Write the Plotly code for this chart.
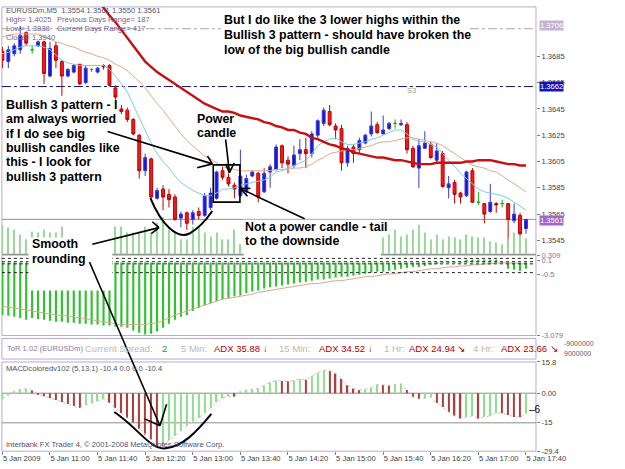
import plotly.graph_objects as go

W, H = 625, 469
def fx(x): return x / W
def fy(y): return 1 - y / H

bars = list(range(89))
time_tick_bars = [0, 8, 16, 24, 32, 40, 48, 56, 64, 72, 80, 88]
time_tick_text = ["5 Jan 2009", "5 Jan 11:00", "5 Jan 11:40", "5 Jan 12:20", "5 Jan 13:00",
                  "5 Jan 13:40", "5 Jan 14:20", "5 Jan 15:00", "5 Jan 15:40", "5 Jan 16:20",
                  "5 Jan 17:00", "5 Jan 17:40"]

open_ = [1.3689,1.3681,1.3687,1.3690,1.3703,1.3690,1.3693,1.3696,1.3670,1.3693,
         1.3681,1.3670,1.3673,1.3679,1.3665,1.3675,1.3673,1.3678,1.3678,1.3661,
         1.3645,1.3644,1.3637,1.3625,1.3598,1.3607,1.3577,1.3584,1.3580,1.3578,
         1.3562,1.3566,1.3561,1.3567,1.3564,1.3570,1.3577,1.3598,1.3593,1.3587,
         1.3579,1.3582,1.3594,1.3596,1.3582,1.3597,1.3599,1.3617,1.3606,1.3602,
         1.3611,1.3614,1.3611,1.3625,1.3634,1.3643,1.3632,1.3630,1.3604,1.3616,
         1.3614,1.3619,1.3626,1.3633,1.3626,1.3630,1.3634,1.3633,1.3633,1.3615,
         1.3600,1.3615,1.3618,1.3606,1.3611,1.3585,1.3589,1.3581,1.3579,1.3598,
         1.3574,1.3573,1.3567,1.3573,1.3573,1.3573,1.3560,1.3564,1.3554]
high = [1.3692,1.3693,1.3695,1.3708,1.3704,1.3693,1.3697,1.3697,1.3696,1.3696,
        1.3682,1.3676,1.3679,1.3679,1.3678,1.3676,1.3677,1.3679,1.3679,1.3663,
        1.3648,1.3646,1.3638,1.3626,1.3611,1.3608,1.3585,1.3587,1.3584,1.3580,
        1.3567,1.3567,1.3568,1.3570,1.3581,1.3585,1.3598,1.3601,1.3596,1.3589,
        1.3614,1.3595,1.3598,1.3597,1.3600,1.3603,1.3618,1.3618,1.3609,1.3617,
        1.3622,1.3623,1.3628,1.3637,1.3646,1.3648,1.3634,1.3633,1.3617,1.3618,
        1.3623,1.3626,1.3643,1.3635,1.3640,1.3635,1.3637,1.3637,1.3635,1.3617,
        1.3622,1.3628,1.3620,1.3619,1.3613,1.3594,1.3591,1.3582,1.3598,1.3600,
        1.3582,1.3573,1.3588,1.3574,1.3576,1.3573,1.3573,1.3566,1.3561]
low = [1.3676,1.3676,1.3685,1.3687,1.3693,1.3687,1.3692,1.3664,1.3669,1.3676,
       1.3655,1.3669,1.3672,1.3663,1.3664,1.3673,1.3672,1.3675,1.3662,1.3652,
       1.3641,1.3635,1.3625,1.3592,1.3594,1.3577,1.3576,1.3568,1.3570,1.3560,
       1.3555,1.3553,1.3557,1.3561,1.3563,1.3568,1.3576,1.3591,1.3586,1.3577,
       1.3578,1.3579,1.3593,1.3574,1.3581,1.3585,1.3598,1.3600,1.3596,1.3600,
       1.3606,1.3600,1.3608,1.3623,1.3632,1.3632,1.3622,1.3598,1.3601,1.3604,
       1.3611,1.3618,1.3624,1.3626,1.3626,1.3629,1.3630,1.3632,1.3611,1.3600,
       1.3585,1.3615,1.3607,1.3604,1.3585,1.3577,1.3573,1.3573,1.3578,1.3574,
       1.3572,1.3558,1.3566,1.3566,1.3570,1.3541,1.3558,1.3546,1.3550]
close = [1.3682,1.3690,1.3693,1.3701,1.3695,1.3690,1.3696,1.3672,1.3691,1.3682,
         1.3670,1.3675,1.3678,1.3664,1.3676,1.3675,1.3676,1.3677,1.3663,1.3654,
         1.3643,1.3637,1.3626,1.3598,1.3608,1.3578,1.3583,1.3578,1.3576,1.3561,
         1.3565,1.3558,1.3566,1.3564,1.3579,1.3581,1.3597,1.3593,1.3588,1.3584,
         1.3594,1.3592,1.3597,1.3578,1.3596,1.3601,1.3616,1.3604,1.3603,1.3610,
         1.3614,1.3611,1.3626,1.3636,1.3644,1.3633,1.3629,1.3604,1.3615,1.3611,
         1.3621,1.3625,1.3632,1.3627,1.3629,1.3634,1.3634,1.3634,1.3614,1.3601,
         1.3617,1.3619,1.3608,1.3613,1.3586,1.3588,1.3580,1.3578,1.3597,1.3574,
         1.3574,1.3565,1.3574,1.3572,1.3573,1.3561,1.3565,1.3550,1.3561]

ma_fast = [1.3687,1.3688,1.3690,1.3692,1.3693,1.3693,1.3693,1.3692,1.3690,1.3686,
           1.3682,1.3680,1.3679,1.3678,1.3678,1.3678,1.3678,1.3678,1.3675,1.3670,
           1.3664,1.3658,1.3648,1.3638,1.3629,1.3619,1.3611,1.3605,1.3600,1.3594,
           1.3589,1.3586,1.3583,1.3581,1.3579,1.3579,1.3581,1.3584,1.3584,1.3585,
           1.3587,1.3588,1.3589,1.3590,1.3591,1.3593,1.3597,1.3598,1.3600,1.3602,
           1.3604,1.3606,1.3611,1.3617,1.3620,1.3622,1.3623,1.3620,1.3618,1.3618,
           1.3619,1.3620,1.3622,1.3623,1.3625,1.3627,1.3629,1.3629,1.3626,1.3622,
           1.3620,1.3620,1.3618,1.3616,1.3611,1.3606,1.3601,1.3596,1.3592,1.3588,
           1.3584,1.3582,1.3581,1.3580,1.3579,1.3577,1.3574,1.3571,1.3568]
ma_mid = [1.3700,1.3701,1.3702,1.3702,1.3702,1.3702,1.3702,1.3700,1.3698,1.3696,
          1.3695,1.3693,1.3692,1.3690,1.3688,1.3687,1.3685,1.3684,1.3682,1.3679,
          1.3677,1.3674,1.3670,1.3666,1.3661,1.3655,1.3649,1.3644,1.3638,1.3632,
          1.3626,1.3621,1.3617,1.3613,1.3609,1.3607,1.3604,1.3601,1.3600,1.3599,
          1.3598,1.3598,1.3598,1.3598,1.3598,1.3598,1.3599,1.3599,1.3599,1.3600,
          1.3600,1.3601,1.3603,1.3606,1.3608,1.3611,1.3612,1.3613,1.3614,1.3614,
          1.3615,1.3616,1.3617,1.3619,1.3620,1.3620,1.3621,1.3622,1.3623,1.3623,
          1.3622,1.3621,1.3620,1.3619,1.3617,1.3614,1.3611,1.3608,1.3605,1.3602,
          1.3601,1.3600,1.3598,1.3597,1.3594,1.3591,1.3588,1.3585,1.3582]
ma_slow_bars = list(range(14, 89))
ma_slow = [1.3740,1.3734,1.3728,1.3722,1.3716,1.3711,1.3705,1.3699,1.3693,1.3687,
           1.3681,1.3677,1.3673,1.3670,1.3667,1.3664,1.3661,1.3658,1.3655,1.3652,
           1.3649,1.3647,1.3645,1.3643,1.3643,1.3642,1.3640,1.3639,1.3638,1.3637,
           1.3635,1.3634,1.3632,1.3631,1.3629,1.3629,1.3627,1.3626,1.3623,1.3622,
           1.3620,1.3618,1.3617,1.3615,1.3614,1.3612,1.3611,1.3610,1.3609,1.3608,
           1.3608,1.3607,1.3606,1.3606,1.3605,1.3604,1.3603,1.3603,1.3603,1.3604,
           1.3604,1.3604,1.3604,1.3604,1.3605,1.3605,1.3606,1.3606,1.3606,1.3605,
           1.3604,1.3603,1.3603,1.3602,1.3602]

volume = [30,27,25,20,15,23,22,25,22,22,
          28,14,10,12,9,11,8,13,15,28,
          28,22,22,23,28,22,32,38,25,22,
          15,15,28,28,22,18,22,15,15,25,
          10,18,20,16,22,19,24,17,21,18,
          23,20,26,19,22,17,25,21,18,16,
          20,19,15,17,17,20,25,18,20,25,
          30,22,15,20,15,18,17,15,20,18,
          17,17,13,12,10,16,22,19,16]

osc_hist = [-2.21,-2.25,-2.29,-2.34,-2.42,-2.34,-2.38,-2.42,-2.46,-2.50,
            -2.50,-2.54,-2.54,-2.58,-2.58,-2.62,-2.62,-2.66,-2.66,-2.71,
            -2.71,-2.75,-2.87,-2.96,-3.04,-3.00,-2.91,-2.75,-2.58,-2.42,
            -2.29,-2.21,-2.05,-1.92,-1.80,-1.72,-1.63,-1.55,-1.51,-1.43,
            -1.39,-1.30,-1.22,-1.18,-1.10,-1.05,-1.01,-0.97,-0.93,-0.89,
            -0.85,-0.81,-0.77,-0.72,-0.72,-0.68,-0.64,-0.60,-0.60,-0.56,
            -0.52,-0.48,-0.43,-0.39,-0.39,-0.35,-0.31,-0.27,-0.23,-0.19,
            -0.19,-0.15,-0.10,-0.06,-0.02,-0.02,-0.02,-0.02,0.12,0.12,
            0.12,0.12,0.12,0.12,-0.02,-0.27,-0.31,-0.35,-0.27]
osc_signal = [-1.84,-1.88,-1.92,-1.96,-2.00,-2.05,-2.09,-2.13,-2.17,-2.21,
              -2.25,-2.25,-2.29,-2.34,-2.38,-2.42,-2.46,-2.50,-2.54,-2.58,
              -2.62,-2.62,-2.62,-2.62,-2.62,-2.58,-2.54,-2.46,-2.34,-2.21,
              -2.13,-2.05,-1.96,-1.88,-1.80,-1.72,-1.63,-1.55,-1.51,-1.47,
              -1.43,-1.39,-1.34,-1.26,-1.22,-1.18,-1.14,-1.10,-1.05,-1.01,
              -0.97,-0.93,-0.89,-0.89,-0.85,-0.81,-0.77,-0.77,-0.72,-0.68,
              -0.64,-0.60,-0.60,-0.56,-0.52,-0.48,-0.48,-0.43,-0.39,-0.39,
              -0.35,-0.31,-0.27,-0.27,-0.23,-0.19,-0.19,-0.15,-0.15,-0.10,
              -0.10,-0.06,-0.06,-0.02,-0.02,-0.02,-0.02,-0.06,-0.06]
osc_levels = [0.17, 0.03, -0.06, -0.43]

macd = [-3,-1,1,2,2.2,1.5,-0.5,-1.5,-2.5,-3.5,
        -4.5,-5.5,-6.5,-7.5,-6,-5,-4,-3,-5,-7.5,
        -10,-12.5,-15,-18,-21,-23.5,-27.5,-26.5,-24,-21.5,
        -19,-16.5,-14.5,-12.5,-10,-7.5,-4.5,-2.5,-1.5,-1.8,
        0.8,1.6,2,2.4,4,5.6,6.4,6.2,6,6.4,
        7.2,6.8,8.8,10.4,11.6,11.4,10,7.2,4,2.4,
        1.6,2,2.8,4.4,4.2,4,4.4,4.8,1.6,-2,
        -3,-2.5,-2,-5,-7,-9.5,-11.5,-13,-12,-11.5,
        -13,-12,-11.5,-10,-10.2,-11,-12,-12.2,-10.4]
macd_levels = [0, -15]

price_lines = {"high_line": 1.3706, "pivot": 1.3662, "bid": 1.3561}
price_ticks = [1.3545, 1.3565, 1.3585, 1.3605, 1.3625, 1.3645, 1.3665, 1.3685]

fig = go.Figure()

fig.add_trace(go.Bar(x=bars, y=volume, yaxis="y4", marker_color="#9ad69a",
                     marker_line_width=0, width=0.22))

def price_at(y):
    return 1.37248 - 0.0000746 * y

normal = [i for i in bars if open_[i] != close[i]]
doji = [i for i in bars if open_[i] == close[i]]
fig.add_trace(go.Candlestick(
    x=normal, open=[open_[i] for i in normal], high=[high[i] for i in normal],
    low=[low[i] for i in normal], close=[close[i] for i in normal],
    increasing=dict(line=dict(color="#3a3ac8", width=1), fillcolor="#1414e6"),
    decreasing=dict(line=dict(color="#c40000", width=1), fillcolor="#ee1c1c"),
    whiskerwidth=0, yaxis="y"))
fig.add_trace(go.Candlestick(
    x=doji, open=[open_[i] for i in doji], high=[high[i] for i in doji],
    low=[low[i] for i in doji], close=[close[i] for i in doji],
    increasing=dict(line=dict(color="#10b010", width=1), fillcolor="#10b010"),
    decreasing=dict(line=dict(color="#10b010", width=1), fillcolor="#10b010"),
    whiskerwidth=0, yaxis="y"))

fig.add_trace(go.Scatter(x=bars, y=ma_mid, mode="lines", line=dict(color="#e4a888", width=1), yaxis="y"))
fig.add_trace(go.Scatter(x=bars, y=ma_fast, mode="lines", line=dict(color="#78d0d8", width=1), yaxis="y"))
fig.add_trace(go.Scatter(x=ma_slow_bars, y=ma_slow, mode="lines", line=dict(color="#c81010", width=2.4), yaxis="y"))

fig.add_trace(go.Bar(x=bars, y=osc_hist, yaxis="y2", marker_color="#30c030",
                     marker_line_width=0, width=0.36))
fig.add_trace(go.Scatter(x=bars, y=osc_signal, mode="lines", line=dict(color="#d8a890", width=1), yaxis="y2"))

macd_colors = ["#90dc90" if (i == 0 or macd[i] >= macd[i - 1]) else "#a84040" for i in bars]
fig.add_trace(go.Bar(x=bars, y=macd, yaxis="y3", marker_color=macd_colors,
                     marker_line_width=0, width=0.24))
fig.add_trace(go.Scatter(x=bars, y=macd, mode="lines", line=dict(color="#c8c8c8", width=1, dash="dot"), yaxis="y3"))

shapes = []
frame = "#b8aad0"
def hline_paper(x0, x1, y, color, width=1, dash="solid"):
    shapes.append(dict(type="line", xref="paper", yref="paper", x0=fx(x0), x1=fx(x1),
                       y0=fy(y), y1=fy(y), line=dict(color=color, width=width, dash=dash)))
def rect_paper(x0, y0, x1, y1, color, width=1, fill=None, layer="below"):
    d = dict(type="rect", xref="paper", yref="paper", x0=fx(x0), x1=fx(x1),
             y0=fy(y1), y1=fy(y0), line=dict(color=color, width=width), layer=layer)
    if fill:
        d["fillcolor"] = fill
    shapes.append(d)

rect_paper(2, 3, 563, 255, frame)
rect_paper(2, 256, 563, 338, frame)
rect_paper(2, 341, 563, 362, frame)
rect_paper(2, 365, 563, 456, frame)
hline_paper(2, 563, 255.5, "#909090")

for key, col, dash, w in [("high_line", "#a8a8a8", "dashdot", 1), ("pivot", "#101080", "dashdot", 1), ("bid", "#909090", "solid", 1)]:
    shapes.append(dict(type="line", xref="paper", yref="y", x0=fx(2), x1=fx(563),
                       y0=price_lines[key], y1=price_lines[key], line=dict(color=col, width=w, dash=dash), layer="below"))
for lv in osc_levels:
    shapes.append(dict(type="line", xref="paper", yref="y2", x0=fx(2), x1=fx(563),
                       y0=lv, y1=lv, line=dict(color="#202020", width=1, dash="dot"), layer="above"))
for lv in macd_levels:
    shapes.append(dict(type="line", xref="paper", yref="y3", x0=fx(2), x1=fx(563),
                       y0=lv, y1=lv, line=dict(color="#8c8c8c", width=1), layer="below"))

rect_paper(232, 8, 490, 55, "white", 0, "white", "above")
rect_paper(256, 220, 400, 258, "white", 0, "white", "above")
rect_paper(30, 238, 118, 292, "white", 0, "white", "above")

def P(x, y):
    return f"{fx(x):.5f},{fy(y):.5f}"
def seg(x0, y0, x1, y1, w=1.6):
    shapes.append(dict(type="line", xref="paper", yref="paper", x0=fx(x0), y0=fy(y0),
                       x1=fx(x1), y1=fy(y1), line=dict(color="black", width=w), layer="above"))

shapes.append(dict(type="path", xref="paper", yref="paper", layer="above",
                   path=f"M {P(158,198)} C {P(170,226)} {P(186,240)} {P(199,234)} C {P(208,229)} {P(216,221)} {P(223,211)}",
                   line=dict(color="black", width=2)))
shapes.append(dict(type="path", xref="paper", yref="paper", layer="above",
                   path=f"M {P(120,416)} C {P(145,432)} {P(158,455)} {P(174,453)} C {P(192,451)} {P(206,437)} {P(222,418)}",
                   line=dict(color="black", width=2)))
shapes.append(dict(type="rect", xref="paper", yref="paper", x0=fx(224), x1=fx(252), y0=fy(202), y1=fy(164),
                   line=dict(color="black", width=1.6), layer="above"))
seg(97, 245, 167, 228); seg(167, 228, 160, 222); seg(167, 228, 159, 234)
seg(113, 130, 223, 163); seg(223, 163, 218, 155); seg(223, 163, 207, 167)
seg(237, 138, 241, 172); seg(241, 172, 237, 163); seg(241, 172, 246, 162)
seg(320, 219, 252, 188); seg(252, 188, 263, 188); seg(252, 188, 260, 196)
seg(94, 263, 168, 430); seg(168, 430, 152, 423); seg(168, 430, 175, 408)

ann = []
note_font = dict(family="Arial, Liberation Sans, sans-serif", size=12.4, color="black")
def note(x, y, t):
    ann.append(dict(xref="paper", yref="paper", x=fx(x), y=fy(y), xanchor="left", yanchor="middle",
                    text=f"<b>{t}</b>", showarrow=False, font=note_font))
top_note = ["But I do like the 3 lower highs within the",
            "Bullish 3 pattern - should have broken the",
            "low of the big bullish candle"]
for k, t in enumerate(top_note):
    note(233, 16 + 15.5 * k, t)
left_note = ["Bullish 3 pattern - I", "am always worried", "if I do see big",
             "bullish candles like", "this - I look for", "bullish 3 pattern"]
for k, t in enumerate(left_note):
    note(4, 103 + 14.6 * k, t)
for k, t in enumerate(["Power", "candle"]):
    note(205, 117 + 15 * k, t)
for k, t in enumerate(["Not a power candle - tail", "to the downside"]):
    note(255, 227 + 15 * k, t)
for k, t in enumerate(["Smooth", "rounding"]):
    note(31, 245 + 15 * k, t)

small = dict(family="Liberation Sans, Arial, sans-serif", size=7.6, color="#7a5c96")
def txt(x, y, t, font=small, xanchor="left", bg=None):
    d = dict(xref="paper", yref="paper", x=fx(x), y=fy(y), xanchor=xanchor, yanchor="middle",
             text=t, showarrow=False, font=font)
    if bg:
        d["bgcolor"] = bg
        d["borderpad"] = 0
    ann.append(d)

txt(4, 7, "EURUSDm,M5  1.3554 1.3561 1.3550 1.3561", dict(small, color="#555566"))
txt(4, 16, "High= 1.4025")
txt(58, 16, "Previous Days Range= 187")
txt(4, 25, "Low= 1.3838")
txt(58, 25, "Current Days Range= 417")
txt(4, 34, "Close= 1.3940")
txt(425, 88, "S3", dict(small, color="#a0a0a0"))

axis_small = dict(family="Liberation Sans, Arial, sans-serif", size=7.6, color="#ffffff")
txt(566, 22, "1.3706", axis_small, bg="#c4b4d4")
txt(566, 84.5, "1.3662", axis_small, bg="#1414b4")
txt(566, 220.5, "1.3561", axis_small, bg="#a468c4")

tor_gray = dict(family="Liberation Sans, Arial, sans-serif", size=9.5, color="#b8b8b8")
tor_red = dict(family="Liberation Sans, Arial, sans-serif", size=9.5, color="#b00000")
txt(5, 351, "ToR 1.02 (EURUSDm)", dict(small, color="#8a7aa0", size=7.6))
txt(87, 351, "Current Spread:", tor_gray)
txt(168, 351, "2", dict(tor_gray, color="#20a020"))
txt(188, 351, "5 Min:", tor_gray)
txt(223, 351, "ADX 35.88", tor_red)
txt(274, 351, "↓", tor_red)
txt(291, 351, "15 Min:", tor_gray)
txt(333, 351, "ADX 34.52", tor_red)
txt(384, 351, "↓", tor_red)
txt(401, 351, "1 Hr:", tor_gray)
txt(427, 351, "ADX 24.94", tor_red)
txt(478, 351, "↘", tor_red)
txt(495, 351, "4 Hr:", tor_gray)
txt(524, 351, "ADX 23.66", tor_red)
txt(576, 351, "↘", tor_red)
txt(590, 346, "-9000000", dict(small, color="#606060", size=7))
txt(590, 356, "9000000", dict(small, color="#606060", size=7))

txt(4, 372, "MACDcoloredv102 (5,13,1) -10.4 0.0 0.0 -10.4", dict(small, color="#505060"))
txt(4, 449, "Interbank FX Trader 4, © 2001-2008 MetaQuotes Software Corp.", dict(small, color="#505070"))
txt(554, 413, "‒6", dict(family="Arial, Liberation Sans", size=10, color="black"))

tickfont = dict(family="Liberation Sans, Arial, sans-serif", size=7.6, color="#404040")
fig.update_layout(
    width=W, height=H, margin=dict(l=0, r=0, t=0, b=0),
    paper_bgcolor="white", plot_bgcolor="white", showlegend=False, barmode="overlay",
    xaxis=dict(domain=[fx(2), fx(563)], range=[-0.08, 89.68], anchor="y3",
               tickvals=time_tick_bars, ticktext=time_tick_text, ticks="outside", ticklen=3,
               tickangle=0, tickcolor="#808080", ticklabelposition="outside right", tickfont=tickfont,
               showgrid=False, zeroline=False, showline=False, rangeslider=dict(visible=False)),
    yaxis=dict(domain=[fy(255), fy(3)], range=[price_at(255), price_at(3)], side="right", anchor="x",
               tickvals=price_ticks, tickformat=".4f", ticks="outside", ticklen=3, tickcolor="#808080",
               tickfont=tickfont, showgrid=False, zeroline=False, showline=False),
    yaxis4=dict(overlaying="y", range=[0, 252], visible=False),
    yaxis2=dict(domain=[fy(338), fy(256)], range=[-3.079, 0.309], side="right", anchor="x",
                tickvals=[0.309, 0.1, -0.5, -3.079], ticktext=["0.309", "0.1", "-0.5", "-3.079"],
                ticks="outside", ticklen=3, tickcolor="#808080", tickfont=dict(tickfont, color="#8a6aa8"),
                showgrid=False, zeroline=False, showline=False),
    yaxis3=dict(domain=[fy(456), fy(365)], range=[-29.4, 15.8], side="right", anchor="x",
                tickvals=[15.8, 0, -15, -29.4], ticktext=["15.8", "0.00", "-15", "-29.4"],
                ticks="outside", ticklen=3, tickcolor="#808080", tickfont=tickfont,
                showgrid=False, zeroline=False, showline=False),
    shapes=shapes, annotations=ann,
)
fig.write_html("out.html")
